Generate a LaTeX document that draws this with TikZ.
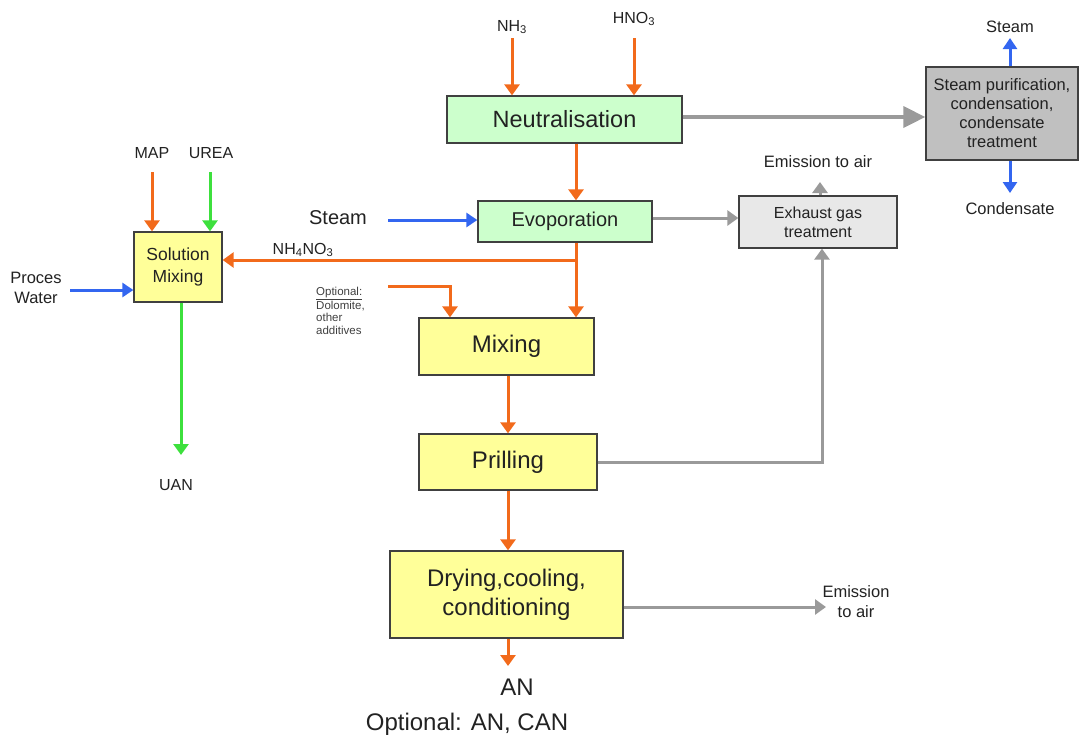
\documentclass[tikz,border=0pt]{standalone}
\usepackage{fontspec}
\setmainfont{Liberation Sans}
\usetikzlibrary{arrows.meta}
\definecolor{orng}{HTML}{F26A1B}
\definecolor{grn}{HTML}{3DE03D}
\definecolor{blu}{HTML}{3366F0}
\definecolor{gry}{HTML}{9A9A9A}
\definecolor{boxg}{HTML}{CCFFCC}
\definecolor{boxy}{HTML}{FFFF99}
\definecolor{boxl}{HTML}{E8E8E8}
\definecolor{boxd}{HTML}{C0C0C0}
\definecolor{txt}{HTML}{222222}
\tikzset{
  box/.style={draw=black!75, line width=1.3, inner sep=2, align=center, text=txt},
  gbox/.style={box, fill=boxg},
  ybox/.style={box, fill=boxy},
  lbox/.style={box, fill=boxl},
  dbox/.style={box, fill=boxd},
  lbl/.style={inner sep=0, align=center, text=txt},
  oarr/.style={draw=orng, line width=3, -{Triangle[length=11, width=15]}},
  garr/.style={draw=grn, line width=3, -{Triangle[length=11, width=15]}},
  barr/.style={draw=blu, line width=3, -{Triangle[length=11, width=14]}},
  yarr/.style={draw=gry, line width=3, -{Triangle[length=11, width=15]}},
  bigyarr/.style={draw=gry, line width=3.5, -{Triangle[length=22, width=21]}},
}
\begin{document}
\begin{tikzpicture}[x=1pt,y=-1pt]
\useasboundingbox (0,0) rectangle (1079,740);
% boxes
\node[gbox, minimum width=235, minimum height=47, font=\fontsize{23.5}{28}\selectfont] (neut) at (564.5,119.5) {Neutralisation};
\node[gbox, minimum width=174, minimum height=41, font=\fontsize{20}{24}\selectfont] (evap) at (565,221.5) {Evoporation};
\node[ybox, minimum width=175, minimum height=57, font=\fontsize{24}{28}\selectfont] (mix) at (506.5,346.5) {Mixing};
\node[ybox, minimum width=178, minimum height=56, font=\fontsize{24}{28}\selectfont] (prill) at (508,462) {Prilling};
\node[ybox, minimum width=233, minimum height=87, font=\fontsize{24}{29}\selectfont] (dry) at (506.5,594.5) {Drying,cooling,\\conditioning};
\node[ybox, minimum width=88, minimum height=70, font=\fontsize{17.5}{22}\selectfont] (sol) at (178,267) {Solution\\Mixing};
\node[lbox, minimum width=158, minimum height=52, font=\fontsize{16}{19}\selectfont] (exh) at (818,222) {Exhaust gas\\treatment};
\node[dbox, minimum width=152, minimum height=93, font=\fontsize{16.5}{19}\selectfont] (spur) at (1002,113.5) {Steam purification,\\condensation,\\condensate\\treatment};
% labels
\node[lbl, font=\fontsize{16}{18}\selectfont] (nh3) at (512,27) {NH\textsubscript{3}};
\node[lbl, font=\fontsize{16}{18}\selectfont] (hno3) at (634,19) {HNO\textsubscript{3}};
\node[lbl, font=\fontsize{20}{24}\selectfont] (steamL) at (338,218) {Steam};
\node[lbl, font=\fontsize{16.5}{19}\selectfont] (emis1) at (818,162) {Emission to air};
\node[lbl, font=\fontsize{16.5}{19}\selectfont] (steamT) at (1010,27) {Steam};
\node[lbl, font=\fontsize{16.5}{19}\selectfont] (cond) at (1010,209) {Condensate};
\node[lbl, font=\fontsize{16}{19}\selectfont] (map) at (152,153) {MAP};
\node[lbl, font=\fontsize{16}{19}\selectfont] (urea) at (211,153) {UREA};
\node[lbl, font=\fontsize{16.5}{20}\selectfont] (water) at (36,288) {Proces\\Water};
\node[lbl, font=\fontsize{16}{19}\selectfont] (uan) at (176,485) {UAN};
\node[lbl, font=\fontsize{16}{19}\selectfont] (nh4) at (303,250) {NH\textsubscript{4}NO\textsubscript{3}};
\node[lbl, font=\fontsize{11.5}{12.5}\selectfont, align=left, anchor=north west, text=black!75] (optl) at (316,287) {\underline{Optional:}\\Dolomite,\\other\\additives};
\node[lbl, font=\fontsize{16.5}{20}\selectfont] (emis2) at (856,602) {Emission\\to air};
\node[lbl, font=\fontsize{24}{28}\selectfont] (an) at (517,687) {AN};
\node[lbl, font=\fontsize{24}{28}\selectfont] (opan) at (467,724) {Optional: AN, CAN};
% free ends and levels
\coordinate (nh3s) at (512,38);
\coordinate (hno3s) at (634,38);
\coordinate (steamS) at (388,220);
\coordinate (e1) at (820,182);
\coordinate (stT) at (1010,38);
\coordinate (cnd) at (1010,193);
\coordinate (maps) at (152,172);
\coordinate (ureas) at (210,172);
\coordinate (ws) at (70,290);
\coordinate (uane) at (181,455);
\coordinate (br) at (576,260);
\coordinate (opts) at (388,286);
\coordinate (e2) at (826,607);
\coordinate (ane) at (508,666);
\coordinate (yn) at (0,117);
\coordinate (ye) at (0,218);
% connectors
\draw[oarr] (nh3s) -- (nh3s |- neut.north);
\draw[oarr] (hno3s) -- (hno3s |- neut.north);
\draw[oarr] ([xshift=11.5]neut.south) -- ([xshift=11]evap.north);
\draw[bigyarr] (neut.east |- yn) -- (spur.west |- yn);
\draw[barr] (steamS) -- (steamS -| evap.west);
\draw[yarr] (evap.east |- ye) -- (exh.west |- ye);
\draw[yarr] ([xshift=2]exh.north) -- (e1);
\draw[draw=orng, line width=3] ([xshift=11]evap.south) -- (br);
\draw[oarr] (br) -- ([xshift=69.5]mix.north);
\draw[oarr] (br) -- (br -| sol.east);
\draw[oarr] (opts) -| ([xshift=-56.5]mix.north);
\draw[oarr] ([xshift=1.5]mix.south) -- (prill.north);
\draw[oarr] (prill.south) -- ([xshift=1.5]dry.north);
\draw[yarr] (prill.east) -| ([xshift=4]exh.south);
\draw[yarr] (e2 -| dry.east) -- (e2);
\draw[oarr] ([xshift=1.5]dry.south) -- (ane);
\draw[barr] ([xshift=8]spur.north) -- (stT);
\draw[barr] ([xshift=8]spur.south) -- (cnd);
\draw[oarr] (maps) -- (maps |- sol.north);
\draw[garr] (ureas) -- (ureas |- sol.north);
\draw[barr] (ws) -- (ws -| sol.west);
\draw[garr] ([xshift=3]sol.south) -- (uane);
\end{tikzpicture}
\end{document}
